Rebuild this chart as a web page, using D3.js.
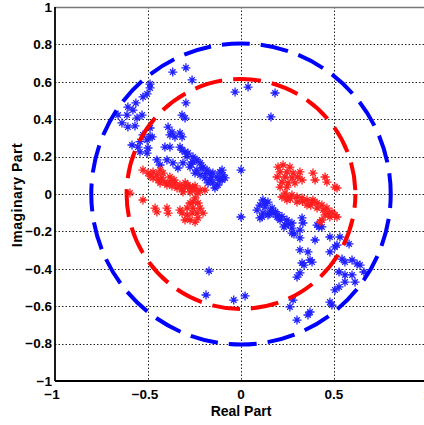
<!DOCTYPE html>
<html><head><meta charset="utf-8">
<script src="https://cdn.jsdelivr.net/npm/d3@7"></script>
<style>body{margin:0;background:#fff}svg{display:block}</style>
</head><body>
<svg id="c" width="424" height="425"></svg>
<script>
const xTicks = [-1, -0.5, 0, 0.5, 1];
const yTicks = [-1, -0.8, -0.6, -0.4, -0.2, 0, 0.2, 0.4, 0.6, 0.8, 1];
const xLabel = "Real Part";
const yLabel = "Imaginary Part";
const circleRadii = [0.805, 0.615];
const circleColors = ["#0000ff", "#ff0000"];

const bluePoles = [
[-0.367,0.652],[-0.296,0.675],[-0.263,0.610],[-0.032,0.545],[0.038,0.572],[0.183,0.540],[0.161,0.412],
[-0.489,0.588],[-0.489,0.567],[-0.505,0.535],[-0.527,0.519],[-0.565,0.487],[-0.608,0.465],[-0.661,0.422],
[-0.613,0.422],[-0.559,0.406],[-0.532,0.422],[-0.640,0.380],[-0.608,0.358],[-0.570,0.364],[-0.489,0.353],
[-0.527,0.316],[-0.505,0.289],[-0.478,0.305],[-0.586,0.262],[-0.554,0.251],[-0.500,0.246],[-0.543,0.225],
[-0.505,0.219],[-0.392,0.358],[-0.371,0.332],[-0.355,0.305],[-0.317,0.305],[-0.317,0.422],[-0.301,0.406],
[-0.296,0.487],[-0.382,0.316],[-0.328,0.326],[-0.409,0.251],[-0.382,0.251],[-0.328,0.251],[-0.301,0.225],
[-0.317,0.235],[-0.285,0.219],[-0.258,0.198],[-0.237,0.182],[-0.220,0.166],[-0.204,0.144],[-0.183,0.128],
[-0.167,0.112],[-0.452,0.182],[-0.435,0.155],[-0.398,0.182],[-0.366,0.166],[-0.339,0.139],[-0.312,0.166],
[-0.274,0.144],[-0.258,0.171],[-0.247,0.112],[-0.237,0.128],[-0.210,0.139],[-0.220,0.102],[-0.194,0.086],
[-0.167,0.075],[-0.151,0.112],[-0.129,0.091],[-0.113,0.118],[-0.102,0.075],[-0.151,0.059],[-0.124,0.048],
[-0.140,0.032],[-0.177,0.059],[-0.086,0.086],[0.000,0.128],[-0.489,0.306],[-0.543,0.280],[-0.581,0.449],
[-0.102,0.128],[-0.097,0.102],[-0.113,0.075],[-0.290,0.200],[-0.270,0.160],[-0.190,0.110],[-0.160,0.090],
[-0.172,-0.412],[-0.188,-0.540],[-0.039,-0.567],[0.022,-0.545],[0.000,-0.123],
[0.086,-0.086],[0.102,-0.059],[0.118,-0.032],[0.145,-0.043],[0.129,-0.070],[0.167,-0.075],[0.118,-0.102],
[0.172,-0.102],[0.199,-0.112],[0.102,-0.128],[0.145,-0.112],[0.210,-0.139],[0.247,-0.139],[0.237,-0.166],
[0.274,-0.155],[0.274,-0.182],[0.328,-0.128],[0.333,-0.155],[0.317,-0.193],[0.274,-0.209],[0.317,-0.235],
[0.409,-0.166],[0.435,-0.176],[0.398,-0.246],[0.317,-0.299],[0.360,-0.310],[0.328,-0.369],[0.382,-0.364],
[0.317,-0.422],[0.301,-0.444],[0.280,-0.567],[0.263,-0.604],[0.371,-0.631],[0.360,-0.647],[0.301,-0.674],
[0.113,-0.123],[0.151,-0.107],[0.194,-0.123],[0.231,-0.176],[0.285,-0.214],[0.419,-0.176],[0.371,-0.353],
[0.339,-0.380],[0.478,-0.230],[0.532,-0.230],[0.581,-0.267],[0.505,-0.283],[0.478,-0.310],[0.543,-0.348],
[0.559,-0.364],[0.597,-0.353],[0.624,-0.374],[0.527,-0.417],[0.559,-0.433],[0.597,-0.433],[0.661,-0.417],
[0.640,-0.380],[0.613,-0.471],[0.559,-0.471],[0.527,-0.497],[0.505,-0.513],[0.478,-0.578],[0.489,-0.594],
[0.516,-0.273],[0.130,-0.050],[0.160,-0.090],[0.185,-0.095],[0.220,-0.120],[0.255,-0.160]
];

const redPoles = [
[-0.527,0.128],[-0.500,0.112],[-0.473,0.118],[-0.452,0.102],[-0.435,0.128],[-0.425,0.086],[-0.409,0.064],
[-0.382,0.064],[-0.355,0.059],[-0.328,0.048],[-0.301,0.037],[-0.274,0.032],[-0.247,0.021],[-0.220,0.021],
[-0.435,0.059],[-0.398,0.048],[-0.344,0.032],[-0.312,0.011],[-0.274,0.011],[-0.473,0.086],[-0.597,0.005],
[-0.527,-0.032],[-0.489,0.096],[-0.446,0.075],[-0.371,0.043],[-0.317,0.027],[-0.285,0.048],[-0.247,0.043],
[-0.194,0.021],[-0.231,0.005],[-0.382,0.091],[-0.419,0.112],[-0.360,0.075],[-0.300,0.060],[-0.260,0.035],
[-0.462,-0.075],[-0.452,-0.096],[-0.398,-0.075],[-0.392,-0.102],[-0.328,-0.086],[-0.317,-0.102],[-0.274,-0.048],
[-0.258,-0.043],[-0.231,-0.048],[-0.290,-0.075],[-0.258,-0.075],[-0.220,-0.075],[-0.290,-0.112],[-0.263,-0.102],
[-0.237,-0.102],[-0.231,-0.128],[-0.274,-0.139],[-0.247,-0.150],[-0.301,-0.139],[-0.247,-0.021],[-0.204,-0.102],
[0.199,0.144],[0.226,0.155],[0.263,0.144],[0.210,0.118],[0.247,0.118],[0.280,0.112],[0.317,0.118],
[0.194,0.091],[0.237,0.091],[0.274,0.086],[0.306,0.091],[0.220,0.064],[0.253,0.059],[0.290,0.059],
[0.328,0.075],[0.210,0.037],[0.247,0.037],[0.387,0.112],[0.398,0.075],[0.452,0.091],[0.462,0.064],
[0.516,0.032],[0.505,0.037],
[0.220,-0.016],[0.247,-0.016],[0.274,-0.005],[0.301,-0.016],[0.328,-0.021],[0.355,-0.032],[0.382,-0.043],
[0.409,-0.048],[0.435,-0.059],[0.462,-0.075],[0.489,-0.096],[0.505,-0.112],[0.478,-0.123],[0.452,-0.112],
[0.435,-0.139],[0.247,-0.032],[0.301,-0.043],[0.355,-0.059],[0.409,-0.075],[0.441,-0.086],[0.516,-0.123],
[0.425,-0.150],[0.237,0.005],[0.387,-0.032],[0.468,-0.102],[0.265,-0.025],[0.330,-0.040],[0.375,-0.060]
];

const W = 424, H = 425;
const m = {left: 55, top: 7, right: 427, bottom: 381};
const svg = d3.select("#c");
const x = d3.scaleLinear().domain([-1, 1]).range([m.left, m.right]);
const y = d3.scaleLinear().domain([-1, 1]).range([m.bottom, m.top]);

// grid
const grid = svg.append("g").attr("stroke", "#222").attr("stroke-width", 1).attr("stroke-dasharray", "1.5,2");
grid.selectAll(".gx").data(xTicks.filter(t => t > -1 && t < 1)).join("line")
  .attr("x1", d => Math.round(x(d)) + 0.5).attr("x2", d => Math.round(x(d)) + 0.5)
  .attr("y1", m.top).attr("y2", m.bottom);
grid.selectAll(".gy").data(yTicks.filter(t => t > -1 && t < 1)).join("line")
  .attr("y1", d => Math.round(y(d)) + 0.5).attr("y2", d => Math.round(y(d)) + 0.5)
  .attr("x1", m.left).attr("x2", m.right);

// points (MATLAB-style asterisk markers)
function star(s) {
  const a = s, b = s * 0.62;
  return `M${-a},0L${a},0M0,${-a}L0,${a}M${-b},${-b}L${b},${b}M${-b},${b}L${b},${-b}`;
}
const pts = svg.append("g").attr("fill", "none").attr("stroke-width", 1.3);
pts.selectAll(".b").data(bluePoles).join("path")
  .attr("transform", d => `translate(${x(d[0])},${y(d[1])})`)
  .attr("d", star(4.5)).attr("stroke", "#1f1fff");
pts.selectAll(".r").data(redPoles).join("path")
  .attr("transform", d => `translate(${x(d[0])},${y(d[1])})`)
  .attr("d", star(4.5)).attr("stroke", "#ff1f1f");

// circles
svg.append("g").selectAll("ellipse").data(circleRadii).join("ellipse")
  .attr("cx", x(0)).attr("cy", y(0))
  .attr("rx", d => x(d) - x(0)).attr("ry", d => y(0) - y(d))
  .attr("fill", "none").attr("stroke", (d, i) => circleColors[i])
  .attr("stroke-width", 4).attr("stroke-dasharray", "28,11")
  .attr("stroke-dashoffset", 14);

// axes box
svg.append("line").attr("x1", m.left).attr("x2", W).attr("y1", m.top + 0.5).attr("y2", m.top + 0.5)
  .attr("stroke", "#777").attr("stroke-width", 1.3);
svg.append("line").attr("x1", m.left).attr("x2", m.left).attr("y1", m.top).attr("y2", m.bottom)
  .attr("stroke", "#000").attr("stroke-width", 1.8);
svg.append("line").attr("x1", m.left).attr("x2", W).attr("y1", m.bottom).attr("y2", m.bottom)
  .attr("stroke", "#000").attr("stroke-width", 1.8);

// tick labels
const font = "'Liberation Sans', Arial, sans-serif";
svg.append("g").selectAll("text").data(yTicks).join("text")
  .attr("x", m.left - 3).attr("y", d => y(d)).attr("dy", "0.36em")
  .attr("text-anchor", "end").attr("font-family", font).attr("font-weight", "bold")
  .attr("font-size", 13.5).text(d => d3.format("")(d));
svg.append("g").selectAll("text").data(xTicks).join("text")
  .attr("x", d => x(d) - (d < 0 ? 3 : 0)).attr("y", 399)
  .attr("text-anchor", "middle").attr("font-family", font).attr("font-weight", "bold")
  .attr("font-size", 13.5).text(d => d3.format("")(d));

svg.append("text").attr("x", x(0)).attr("y", 416).attr("text-anchor", "middle")
  .attr("font-family", font).attr("font-weight", "bold").attr("font-size", 14).text(xLabel);
svg.append("text").attr("transform", `translate(22,${y(0) + 1}) rotate(-90)`).attr("text-anchor", "middle")
  .attr("font-family", font).attr("font-weight", "bold").attr("font-size", 14)
  .attr("letter-spacing", 0.5).text(yLabel);
</script>
</body></html>
